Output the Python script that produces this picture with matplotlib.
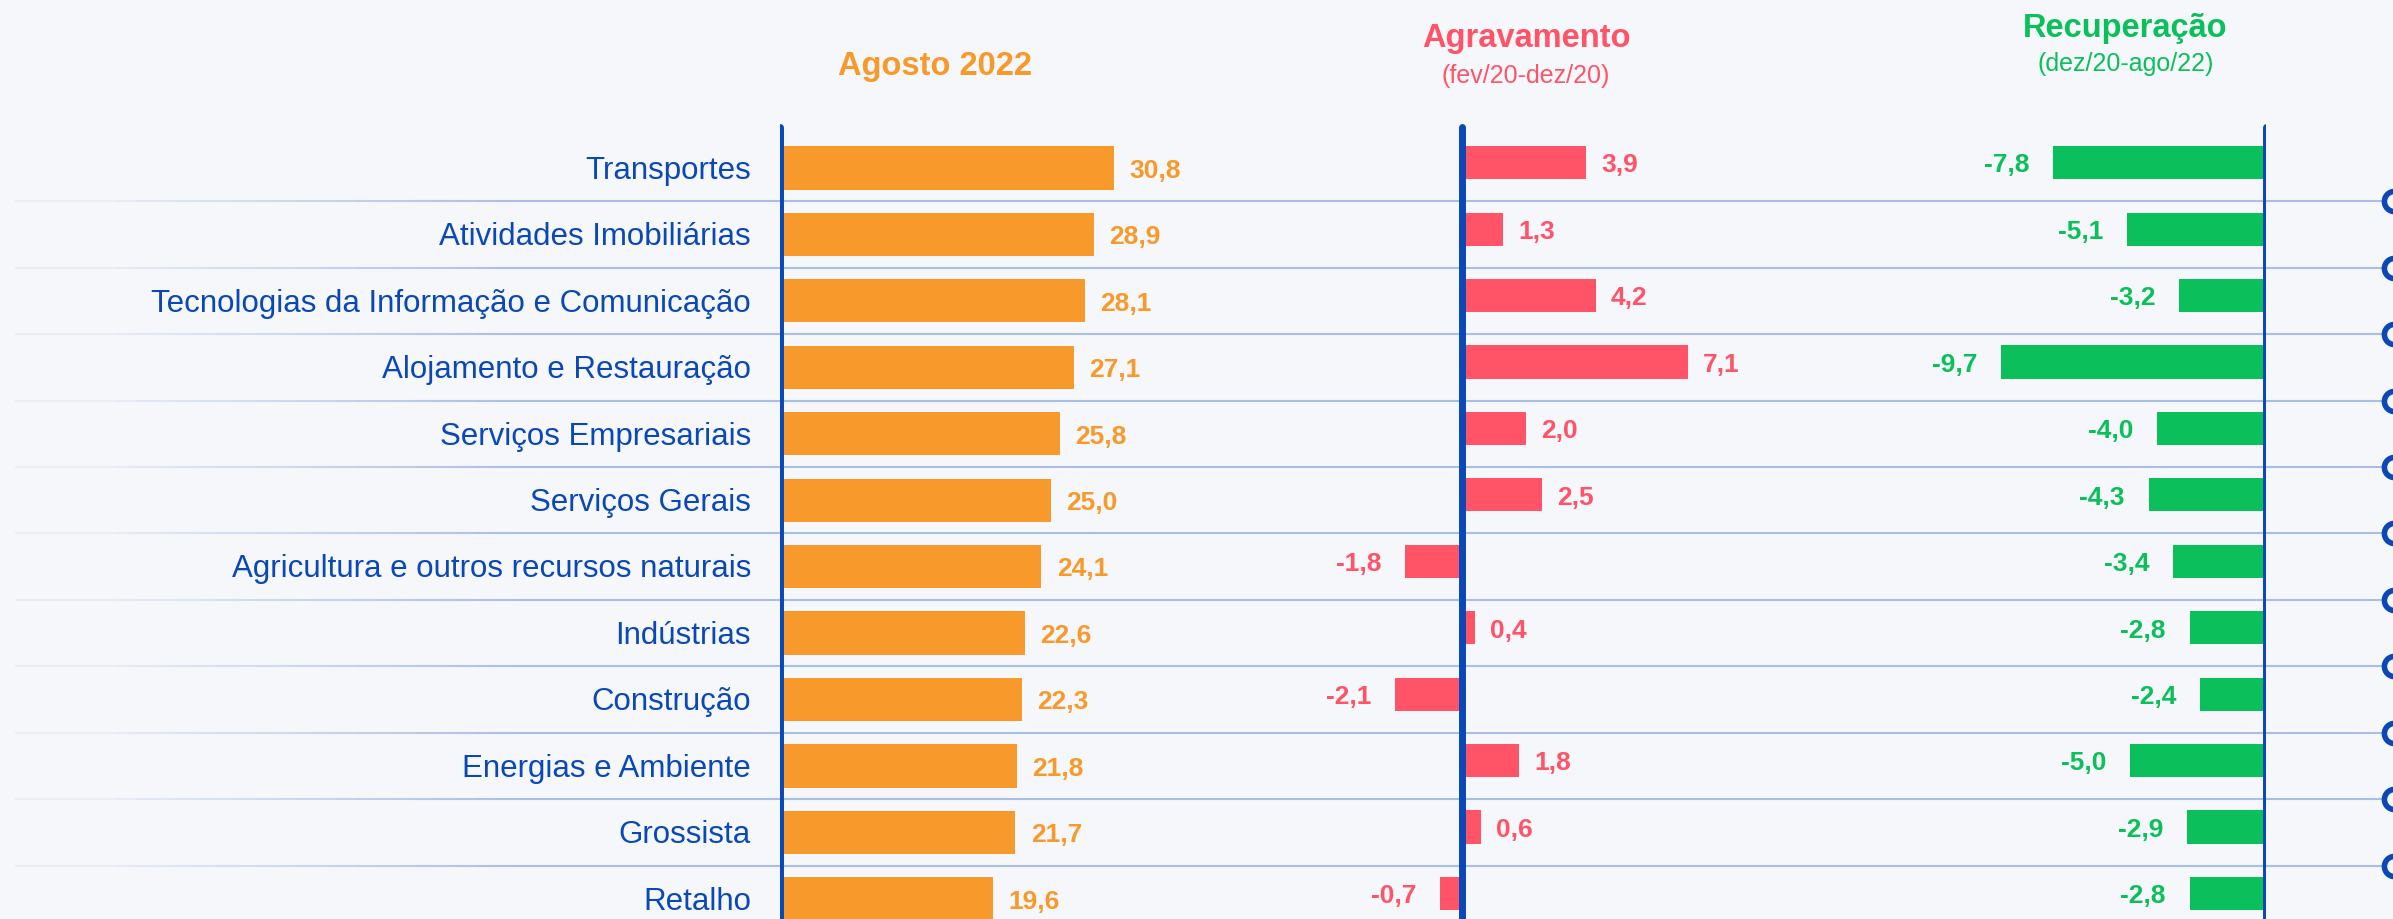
import matplotlib
matplotlib.use("Agg")
import matplotlib.pyplot as plt
import numpy as np
from matplotlib.collections import LineCollection

plt.rcParams['font.family'] = ['Liberation Sans', 'DejaVu Sans']

# ---------------------------------------------------------------------------
# data
# ---------------------------------------------------------------------------
categories = [
    "Transportes",
    "Atividades Imobiliárias",
    "Tecnologias da Informação e Comunicação",
    "Alojamento e Restauração",
    "Serviços Empresariais",
    "Serviços Gerais",
    "Agricultura e outros recursos naturais",
    "Indústrias",
    "Construção",
    "Energias e Ambiente",
    "Grossista",
    "Retalho",
]
agosto_2022 = [30.8, 28.9, 28.1, 27.1, 25.8, 25.0, 24.1, 22.6, 22.3, 21.8, 21.7, 19.6]
agravamento = [3.9, 1.3, 4.2, 7.1, 2.0, 2.5, -1.8, 0.4, -2.1, 1.8, 0.6, -0.7]
recuperacao = [-7.8, -5.1, -3.2, -9.7, -4.0, -4.3, -3.4, -2.8, -2.4, -5.0, -2.9, -2.8]

# colours
bg_color = "#F5F7FA"
blue = "#0A47B7"
orange = "#F7992B"
red = "#FF5468"
green = "#0BC05A"
grid_color = "#A9BDE5"

W, H = 2393, 919
fig = plt.figure(figsize=(W / 100, H / 100), dpi=100, facecolor=bg_color)

# row geometry (pixels from top)
row0, row_step = 168, 66.44
y_lim = ((H - row0) / row_step, -row0 / row_step)
y = np.arange(len(categories))
axis_top = (127 - row0) / row_step


def fx(px):
    return px / W


def fy(py):
    return 1 - py / H


# ---------------------------------------------------------------------------
# background axes: labels, grid lines, rings
# ---------------------------------------------------------------------------
bg = fig.add_axes([0, 0, 1, 1])
bg.set_xlim(0, W)
bg.set_ylim(*y_lim)
bg.axis('off')
bg.patch.set_alpha(0)

# grid lines between rows, fading in from the left
xs = np.linspace(15, W, 120)
for k in range(len(categories) - 1):
    yk = k + 0.5
    segs = [[(xs[i], yk), (xs[i + 1], yk)] for i in range(len(xs) - 1)]
    alphas = np.clip((xs[:-1] - 15) / 500, 0.15, 1.0)
    cols = [matplotlib.colors.to_rgba(grid_color, a) for a in alphas]
    bg.add_collection(LineCollection(segs, colors=cols, linewidths=1.5, zorder=1))
    bg.plot(2394, yk, 'o', ms=14.5, mfc=bg_color, mec=blue, mew=4.0, zorder=3)

for i, name in enumerate(categories):
    bg.annotate(name, (751, i), xytext=(0, -2), textcoords='offset points',
                ha='right', va='center', fontsize=22.5, color=blue)

# ---------------------------------------------------------------------------
# bar panels
# ---------------------------------------------------------------------------
def fmt(v):
    return f"{v:.1f}".replace('.', ',')


def panel(left_px, px_per_unit, xlim, values, color, height, offset):
    width_px = (xlim[1] - xlim[0]) * px_per_unit
    ax = fig.add_axes([fx(left_px), 0, fx(width_px), 1])
    ax.set_xlim(*xlim)
    ax.set_ylim(*y_lim)
    ax.axis('off')
    ax.patch.set_alpha(0)
    yy = y + offset
    ax.barh(yy, values, height=height, color=color, zorder=2)
    ax.plot([0, 0], [axis_top, y_lim[0] + 1], color=blue, lw=5.0,
            solid_capstyle='round', zorder=4)
    for yi, v in zip(yy, values):
        if v >= 0:
            ax.annotate(fmt(v), (v, yi), xytext=(11, -2), textcoords='offset points',
                        ha='left', va='center', fontsize=19, fontweight='bold', color=color)
        else:
            ax.annotate(fmt(v), (v, yi), xytext=(-17, -2), textcoords='offset points',
                        ha='right', va='center', fontsize=19, fontweight='bold', color=color)
    return ax


panel(780, 10.85, (0, 40), agosto_2022, orange, 0.65, 0.0)
panel(1462 - 3 * 31.8, 31.8, (-3, 8), agravamento, red, 0.5, -0.08)
panel(2266 - 11 * 27.3, 27.3, (-11, 0), recuperacao, green, 0.5, -0.08)

# ---------------------------------------------------------------------------
# titles
# ---------------------------------------------------------------------------
fig.text(fx(935), fy(66), "Agosto 2022", ha='center', va='center',
         fontsize=23.5, fontweight='bold', color=orange)
fig.text(fx(1526), fy(38), "Agravamento", ha='center', va='center',
         fontsize=23.5, fontweight='bold', color=red)
fig.text(fx(1526), fy(76), "(fev/20-dez/20)", ha='center', va='center',
         fontsize=18, color=red)
fig.text(fx(2125), fy(28), "Recuperação", ha='center', va='center',
         fontsize=23.5, fontweight='bold', color=green)
fig.text(fx(2126), fy(64), "(dez/20-ago/22)", ha='center', va='center',
         fontsize=18, color=green)

fig.savefig("out.png", dpi=100, facecolor=bg_color)
